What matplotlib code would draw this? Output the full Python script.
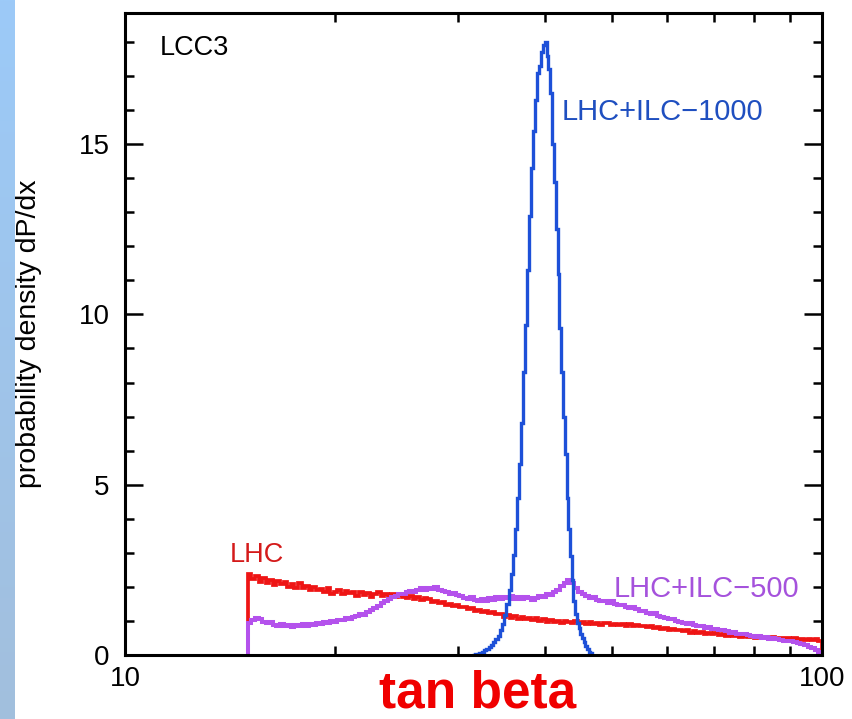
import numpy as np
import matplotlib.pyplot as plt
from matplotlib.colors import LinearSegmentedColormap
from matplotlib.ticker import NullFormatter

plt.rcParams['font.family'] = ['Liberation Sans', 'DejaVu Sans']

# tan beta range covered by the LHC-only and LHC+ILC-500 fits (log bins)
tb_lo, tb_hi = 15, 100
n_bins = 160

# LHC alone
lhc = [2.38, 2.22, 2.31, 2.15, 2.26, 2.12, 2.21, 2.05, 2.18, 2.09,
       2.14, 2.01, 2.08, 1.96, 2.10, 1.97, 2.03, 1.92, 1.99, 1.90,
       1.93, 1.84, 1.97, 1.80, 1.86, 1.92, 1.78, 1.88, 1.81, 1.84,
       1.74, 1.86, 1.77, 1.82, 1.71, 1.78, 1.84, 1.72, 1.79, 1.73,
       1.80, 1.69, 1.76, 1.70, 1.66, 1.74, 1.63, 1.70, 1.61, 1.66,
       1.64, 1.56, 1.60, 1.53, 1.55, 1.47, 1.51, 1.44, 1.48, 1.40,
       1.42, 1.34, 1.38, 1.29, 1.33, 1.26, 1.30, 1.22, 1.25, 1.19,
       1.21, 1.13, 1.17, 1.10, 1.14, 1.07, 1.12, 1.05, 1.09, 1.04,
       1.08, 1.00, 1.05, 0.98, 1.03, 0.96, 1.01, 0.95, 1.00, 0.97,
       0.93, 1.00, 0.94, 0.97, 0.90, 0.96, 0.92, 0.95, 0.89, 0.93,
       0.95, 0.88, 0.92, 0.87, 0.91, 0.85, 0.90, 0.84, 0.88, 0.85,
       0.86, 0.81, 0.84, 0.78, 0.81, 0.76, 0.80, 0.74, 0.77, 0.72,
       0.74, 0.69, 0.72, 0.66, 0.70, 0.65, 0.68, 0.62, 0.66, 0.61,
       0.64, 0.59, 0.62, 0.56, 0.60, 0.55, 0.58, 0.53, 0.57, 0.52,
       0.55, 0.50, 0.54, 0.49, 0.53, 0.48, 0.52, 0.47, 0.51, 0.49,
       0.50, 0.46, 0.49, 0.45, 0.48, 0.44, 0.47, 0.43, 0.46, 0.42]

# LHC + ILC at 500 GeV
ilc500 = [0.95, 1.02, 1.08, 1.05, 0.98, 0.93, 0.96, 0.88, 0.86, 0.90,
          0.84, 0.88, 0.82, 0.87, 0.85, 0.90, 0.86, 0.92, 0.88, 0.93,
          0.91, 0.97, 0.95, 1.01, 0.98, 1.04, 1.02, 1.08, 1.06, 1.12,
          1.15, 1.20, 1.18, 1.26, 1.32, 1.38, 1.45, 1.52, 1.58, 1.64,
          1.70, 1.74, 1.80, 1.78, 1.85, 1.88, 1.84, 1.92, 1.96, 1.90,
          1.98, 1.94, 2.00, 1.92, 1.88, 1.84, 1.80, 1.83, 1.76, 1.72,
          1.68, 1.64, 1.70, 1.62, 1.58, 1.63, 1.60, 1.66, 1.62, 1.69,
          1.64, 1.70, 1.66, 1.72, 1.65, 1.69, 1.63, 1.71, 1.67, 1.62,
          1.68, 1.73, 1.70, 1.78, 1.75, 1.84, 1.92, 2.02, 2.12, 2.20,
          2.10, 1.98, 1.86, 1.78, 1.72, 1.66, 1.69, 1.62, 1.58, 1.60,
          1.54, 1.58, 1.50, 1.46, 1.48, 1.42, 1.38, 1.40, 1.34, 1.30,
          1.28, 1.24, 1.20, 1.22, 1.15, 1.12, 1.09, 1.05, 1.07, 1.01,
          0.98, 0.95, 0.92, 0.94, 0.89, 0.86, 0.84, 0.80, 0.82, 0.77,
          0.75, 0.72, 0.74, 0.69, 0.66, 0.68, 0.63, 0.61, 0.62, 0.58,
          0.57, 0.54, 0.56, 0.51, 0.52, 0.48, 0.49, 0.46, 0.44, 0.42,
          0.40, 0.41, 0.37, 0.35, 0.32, 0.28, 0.24, 0.20, 0.14, 0.08]

# LHC + ILC at 1000 GeV, finer linear bins around the peak
ilc1000_lo, ilc1000_step = 31.5, 0.25
ilc1000 = [0.00, 0.02, 0.04, 0.07, 0.10, 0.14, 0.18, 0.24, 0.30, 0.38,
           0.47, 0.57, 0.72, 0.92, 1.18, 1.50, 1.90, 2.38, 2.95, 3.70,
           4.60, 5.60, 6.80, 8.30, 9.70, 11.3, 12.9, 14.3, 15.4, 16.3,
           17.1, 17.3, 17.7, 17.9, 18.0, 17.6, 17.2, 16.5, 15.0, 13.9,
           12.5, 11.2, 9.6, 8.3, 7.0, 5.9, 4.6, 3.7, 2.9, 2.2,
           1.6, 1.2, 0.95, 0.78, 0.62, 0.50, 0.38, 0.27, 0.18, 0.10,
           0.05, 0.00]

edges = np.geomspace(tb_lo, tb_hi, n_bins + 1)
edges_1000 = ilc1000_lo + ilc1000_step * np.arange(len(ilc1000) + 1)

fig = plt.figure(figsize=(8.52, 7.19), dpi=100)

# light blue strip down the left edge
bar = fig.add_axes([0, 0, 15 / 852, 1])
grad = np.linspace(0, 1, 256).reshape(-1, 1)
cmap = LinearSegmentedColormap.from_list('strip', ['#a2bfdd', '#9ccaf8'])
bar.imshow(grad, aspect='auto', cmap=cmap, origin='lower')
bar.set_axis_off()

ax = fig.add_axes([125 / 852, 1 - 655 / 719, 697 / 852, 642 / 719])

ax.stairs(lhc, edges, baseline=0, color='#ee1515', lw=2.7)
ax.stairs(ilc500, edges, baseline=0, color='#b452ec', lw=2.9)
ax.stairs(ilc1000, edges_1000, baseline=0, color='#1d50d8', lw=2.4)

ax.set_xscale('log')
ax.set_xlim(10, 100)
ax.set_ylim(0, 18.85)
ax.set_xticks([10, 100], ['10', '100'])
ax.set_xticks([20, 30, 40, 50, 60, 70, 80, 90], minor=True)
ax.xaxis.set_minor_formatter(NullFormatter())
ax.set_yticks([0, 5, 10, 15])
ax.set_yticks(np.arange(0, 19), minor=True)

ax.tick_params(which='both', direction='in', top=True, right=True,
               width=1.8, labelsize=20)
ax.tick_params(which='major', length=13)
ax.tick_params(which='minor', length=6.5)
ax.tick_params(axis='y', pad=11)
ax.tick_params(axis='x', pad=8)
for s in ax.spines.values():
    s.set_linewidth(2.2)

ax.set_ylabel('probability density dP/dx', fontsize=20.5)
ax.yaxis.set_label_coords(-0.119, 0.5)

ax.text(0.05, 0.9346, 'LCC3', transform=ax.transAxes, fontsize=19.5,
        va='baseline')
ax.text(14.15, 2.735, 'LHC', color='#d41a1a', fontsize=19.5, va='baseline')
ax.text(42.36, 15.71, 'LHC+ILC\u22121000', color='#1f4fc0', fontsize=21,
        va='baseline')
ax.text(50.3, 1.706, 'LHC+ILC\u2212500', color='#a552dc', fontsize=21,
        va='baseline')

fig.text(0.561, 0.0153, 'tan beta', color='#f00000', fontsize=37,
         fontweight='bold', ha='center', va='baseline')

fig.savefig('out.png', dpi=100)
